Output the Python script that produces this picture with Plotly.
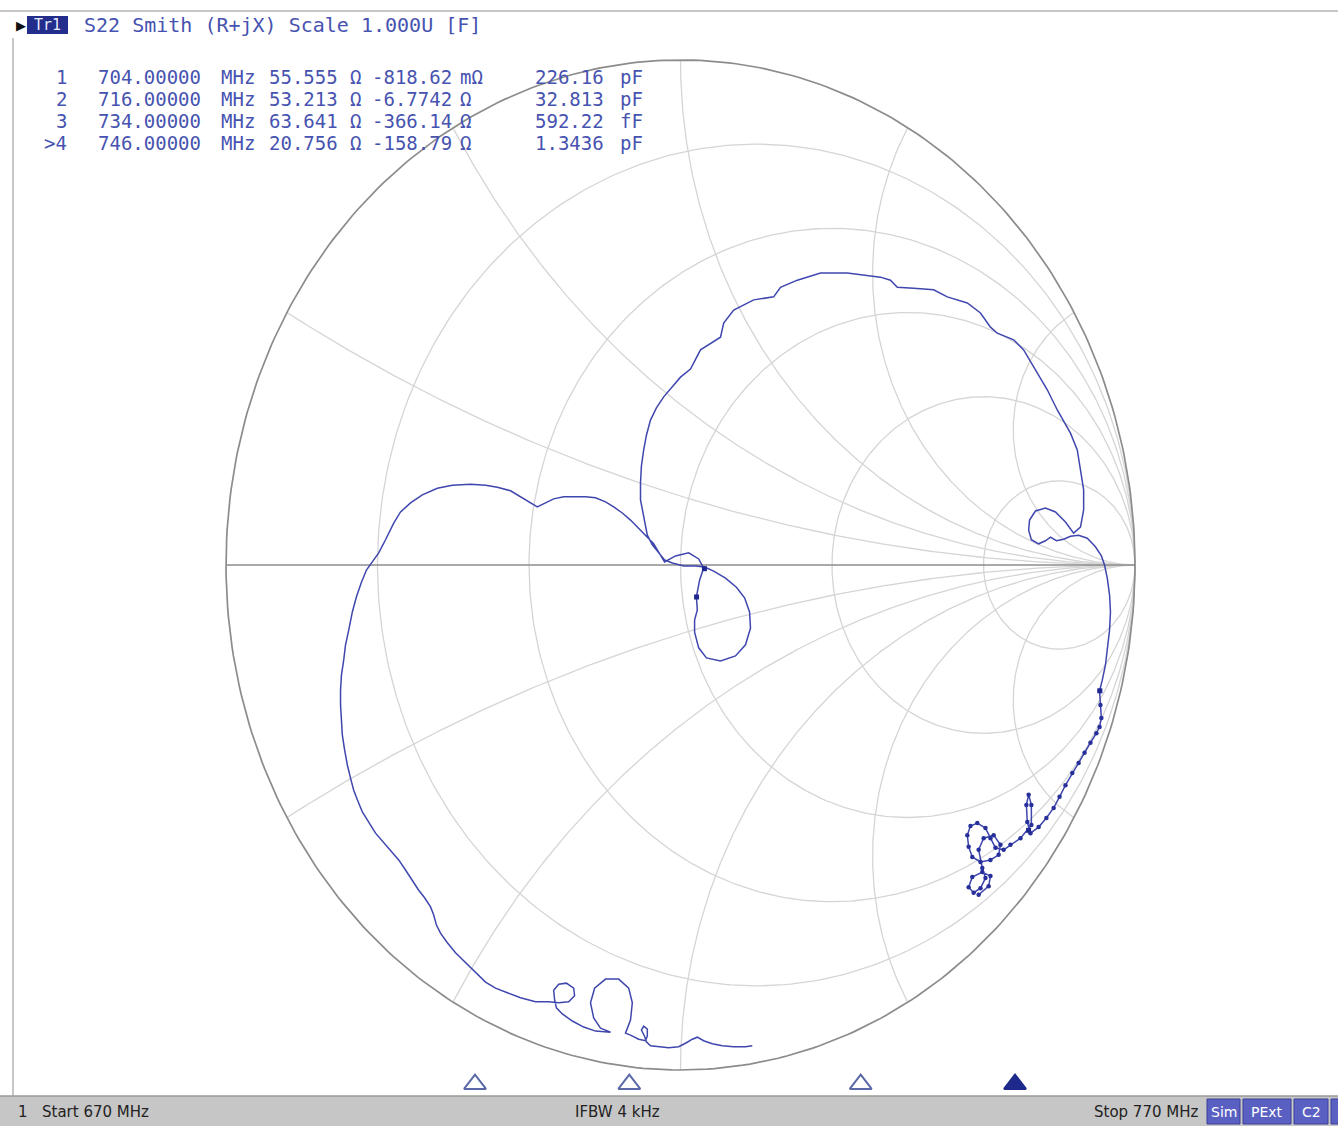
import numpy as np
import plotly.graph_objects as go

# ---------------------------------------------------------------------------
# S22 trace: reflection coefficient, swept 670 MHz -> 770 MHz
# ---------------------------------------------------------------------------
gamma_re = [
    0.158, 0.143, 0.117, 0.092, 0.070, 0.051, 0.037, 0.026, 0.013, -0.004,
    -0.026, -0.051, -0.066, -0.075, -0.079, -0.086, -0.081, -0.073, -0.073, -0.077,
    -0.092, -0.110, -0.121, -0.110, -0.106, -0.114, -0.136, -0.165, -0.189, -0.198,
    -0.191, -0.176, -0.154, -0.187, -0.213, -0.238, -0.260, -0.273, -0.277, -0.279,
    -0.268, -0.251, -0.235, -0.233, -0.246, -0.268, -0.290, -0.319, -0.352, -0.381,
    -0.407, -0.429, -0.451, -0.473, -0.495, -0.513, -0.528, -0.537, -0.543, -0.550,
    -0.563, -0.576, -0.590, -0.605, -0.620, -0.638, -0.656, -0.671, -0.686, -0.700,
    -0.711, -0.719, -0.726, -0.733, -0.739, -0.744, -0.746, -0.748, -0.748, -0.746,
    -0.741, -0.737, -0.730, -0.722, -0.713, -0.702, -0.691, -0.678, -0.664, -0.649,
    -0.631, -0.616, -0.594, -0.568, -0.535, -0.502, -0.462, -0.429, -0.403, -0.374,
    -0.352, -0.334, -0.315, -0.297, -0.279, -0.257, -0.235, -0.209, -0.187, -0.165,
    -0.147, -0.128, -0.110, -0.092, -0.073, -0.059, -0.051, -0.042, -0.035, -0.011,
    0.018, 0.040, 0.051, 0.042, 0.035, 0.037, 0.031, 0.031, 0.040, 0.057,
    0.088, 0.121, 0.143, 0.154, 0.152, 0.141, 0.123, 0.099, 0.073, 0.053,
    0.033, 0.007, -0.018, -0.035, -0.048, -0.062, -0.073, -0.081, -0.088, -0.088,
    -0.086, -0.081, -0.075, -0.066, -0.053, -0.037, -0.018, 0.000, 0.022, 0.044,
    0.088, 0.095, 0.117, 0.161, 0.205, 0.220, 0.257, 0.308, 0.367, 0.440,
    0.462, 0.477, 0.513, 0.557, 0.587, 0.631, 0.660, 0.682, 0.697, 0.733,
    0.755, 0.777, 0.807, 0.829, 0.858, 0.873, 0.880, 0.887, 0.887, 0.880,
    0.865, 0.847, 0.825, 0.803, 0.781, 0.768, 0.766, 0.772, 0.788, 0.803,
    0.814, 0.827, 0.843, 0.858, 0.876, 0.895, 0.913, 0.926, 0.933, 0.939,
    0.944, 0.946, 0.944, 0.939, 0.935, 0.928, 0.922, 0.924, 0.926, 0.922,
    0.915, 0.902, 0.889, 0.876, 0.862, 0.847, 0.834, 0.821, 0.805, 0.788,
    0.770, 0.763, 0.761, 0.766, 0.772, 0.772, 0.748, 0.726, 0.711, 0.693,
    0.682, 0.671, 0.653, 0.638, 0.631, 0.634, 0.642, 0.660, 0.682, 0.700,
    0.704, 0.689, 0.667, 0.656, 0.664, 0.671, 0.660, 0.645, 0.634, 0.642,
    0.664, 0.682, 0.678, 0.656,
]
gamma_im = [
    -0.952, -0.954, -0.954, -0.952, -0.948, -0.942, -0.935, -0.939, -0.946, -0.954,
    -0.956, -0.954, -0.952, -0.944, -0.933, -0.921, -0.913, -0.919, -0.933, -0.942,
    -0.939, -0.931, -0.927, -0.901, -0.867, -0.838, -0.820, -0.820, -0.838, -0.867,
    -0.897, -0.917, -0.925, -0.923, -0.915, -0.903, -0.889, -0.877, -0.861, -0.842,
    -0.830, -0.828, -0.838, -0.853, -0.865, -0.867, -0.865, -0.865, -0.857, -0.847,
    -0.838, -0.826, -0.806, -0.788, -0.768, -0.748, -0.729, -0.713, -0.693, -0.677,
    -0.659, -0.644, -0.624, -0.604, -0.584, -0.566, -0.548, -0.531, -0.509, -0.489,
    -0.465, -0.446, -0.422, -0.396, -0.366, -0.337, -0.307, -0.277, -0.248, -0.218,
    -0.188, -0.158, -0.129, -0.093, -0.063, -0.034, -0.010, 0.006, 0.024, 0.050,
    0.083, 0.105, 0.123, 0.139, 0.152, 0.158, 0.160, 0.158, 0.154, 0.147,
    0.135, 0.125, 0.115, 0.123, 0.131, 0.135, 0.135, 0.135, 0.133, 0.125,
    0.115, 0.103, 0.089, 0.073, 0.055, 0.042, 0.030, 0.016, 0.006, 0.018,
    0.024, 0.012, -0.006, -0.030, -0.063, -0.089, -0.109, -0.133, -0.164, -0.184,
    -0.190, -0.180, -0.158, -0.125, -0.093, -0.065, -0.044, -0.026, -0.012, -0.004,
    -0.002, -0.002, 0.004, 0.010, 0.024, 0.040, 0.059, 0.095, 0.129, 0.162,
    0.196, 0.228, 0.257, 0.287, 0.311, 0.333, 0.352, 0.372, 0.388, 0.426,
    0.451, 0.479, 0.505, 0.525, 0.531, 0.550, 0.564, 0.578, 0.578, 0.570,
    0.564, 0.550, 0.548, 0.545, 0.531, 0.519, 0.499, 0.471, 0.459, 0.446,
    0.426, 0.392, 0.347, 0.307, 0.261, 0.228, 0.188, 0.149, 0.109, 0.075,
    0.063, 0.085, 0.105, 0.113, 0.107, 0.089, 0.069, 0.050, 0.042, 0.048,
    0.055, 0.048, 0.051, 0.057, 0.059, 0.053, 0.036, 0.018, 0.000, -0.026,
    -0.059, -0.093, -0.129, -0.164, -0.198, -0.228, -0.249, -0.277, -0.303, -0.321,
    -0.333, -0.352, -0.372, -0.392, -0.412, -0.436, -0.459, -0.481, -0.501, -0.519,
    -0.531, -0.509, -0.475, -0.455, -0.475, -0.515, -0.541, -0.554, -0.564, -0.560,
    -0.541, -0.521, -0.511, -0.517, -0.535, -0.558, -0.578, -0.588, -0.584, -0.574,
    -0.554, -0.535, -0.541, -0.564, -0.600, -0.620, -0.640, -0.649, -0.638, -0.618,
    -0.608, -0.616, -0.636, -0.653,
]

# Marker readout table
marker_id = ["1", "2", "3", ">4"]
marker_freq_mhz = [704.0, 716.0, 734.0, 746.0]
marker_freq_text = ["704.00000", "716.00000", "734.00000", "746.00000"]
marker_r_ohm = [55.555, 53.213, 63.641, 20.756]
marker_r_text = ["55.555", "53.213", "63.641", "20.756"]
marker_x_ohm = [-0.81862, -6.7742, -366.14, -158.79]
marker_x_text = ["-818.62", "-6.7742", "-366.14", "-158.79"]
marker_x_unit = ["mΩ", "Ω", "Ω", "Ω"]
marker_c_text = ["226.16", "32.813", "592.22", "1.3436"]
marker_c_unit = ["pF", "pF", "fF", "pF"]
active_marker = 3

# Smith chart grid (normalised resistance circles, reactance arcs)
resistance_grid = [0.2, 0.5, 1.0, 2.0, 5.0]
reactance_grid = [0.268, 0.577, 1.0, 1.732, 3.732]

Z0 = 50.0
START_MHZ, STOP_MHZ = 670, 770

W, H = 1338, 1126
TRACE_BLUE = "#3f47ae"
TEXT_BLUE = "#4753b0"
GRID_LIGHT = "#d5d5d5"
GRID_DARK = "#8c8c8c"


def px(x):
    return x / W


def py(y):
    return 1 - y / H


def r_circle(r):
    t = np.linspace(0, 2 * np.pi, 400)
    c, rad = r / (1 + r), 1 / (1 + r)
    return c + rad * np.cos(t), rad * np.sin(t)


def x_arc(x):
    k = 1 / x
    er, ei = (x * x - 1) / (x * x + 1), 2 * x / (x * x + 1)
    a1 = -np.pi / 2
    a2 = np.arctan2(ei - k, er - 1)
    if a2 > a1:
        a2 -= 2 * np.pi
    t = np.linspace(a1, a2, 300)
    return 1 + k * np.cos(t), k + k * np.sin(t)


fig = go.Figure()

# light grid: resistance circles and reactance arcs
gx, gy = [], []
for r in resistance_grid:
    cx, cy = r_circle(r)
    gx += list(cx) + [None]
    gy += list(cy) + [None]
for x in reactance_grid:
    ax_, ay_ = x_arc(x)
    gx += list(ax_) + [None] + list(ax_) + [None]
    gy += list(ay_) + [None] + list(-ay_) + [None]
fig.add_trace(go.Scatter(x=gx, y=gy, mode="lines", hoverinfo="skip",
                         line=dict(color=GRID_LIGHT, width=1.3)))

# outer boundary and real axis
ox, oy = r_circle(0.0)
fig.add_trace(go.Scatter(x=list(ox) + [None, -1, 1], y=list(oy) + [None, 0, 0],
                         mode="lines", hoverinfo="skip",
                         line=dict(color=GRID_DARK, width=1.7)))

# measured trace
fig.add_trace(go.Scatter(x=gamma_re, y=gamma_im, mode="lines",
                         line=dict(color=TRACE_BLUE, width=1.5)))
# noisy tail of the sweep drawn with its sample dots
fig.add_trace(go.Scatter(x=gamma_re[216:], y=gamma_im[216:], mode="markers",
                         marker=dict(color="#27309a", size=4.5)))

# marker positions from the readout impedances
z = (np.array(marker_r_ohm) + 1j * np.array(marker_x_ohm)) / Z0
g = (z - 1) / (z + 1)
fig.add_trace(go.Scatter(x=g.real, y=g.imag, mode="markers",
                         marker=dict(color="#1f2890", size=5, symbol="square")))

# marker flags along the stimulus axis
tri_y = -1.028
for i, f in enumerate(marker_freq_mhz):
    active = i == active_marker
    fig.add_trace(go.Scatter(
        x=[f], y=[tri_y], xaxis="x2", mode="markers",
        marker=dict(symbol="triangle-up" if active else "triangle-up-open",
                    size=19, color="#1d2a8c" if active else "#5a68a8",
                    line=dict(width=2, color="#1d2a8c" if active else "#5a68a8"))))

x0 = -1 - 226 / 454.5
x1 = x0 + W / 454.5
y1 = 1 + 60 / 505
y0 = y1 - H / 505
px_per_mhz = (1015 - 475) / (746 - 704)
f_left = START_MHZ - (475 - (704 - START_MHZ) * px_per_mhz) / px_per_mhz
f_right = f_left + W / px_per_mhz

shapes = [
    # window frame
    dict(type="line", xref="paper", yref="paper", x0=0, x1=1, y0=py(11), y1=py(11),
         line=dict(color="#b4b4b4", width=1.5)),
    dict(type="line", xref="paper", yref="paper", x0=px(13), x1=px(13), y0=py(38), y1=py(1096),
         line=dict(color="#b4b4b4", width=1.5)),
    # status bar
    dict(type="rect", xref="paper", yref="paper", x0=0, x1=1, y0=0, y1=py(1096),
         fillcolor="#c6c6c6", line=dict(width=0)),
    dict(type="line", xref="paper", yref="paper", x0=0, x1=1, y0=py(1096), y1=py(1096),
         line=dict(color="#9a9a9a", width=1.5)),
    # trace tag
    dict(type="rect", xref="paper", yref="paper", x0=px(27), x1=px(68), y0=py(34), y1=py(16),
         fillcolor="#232d8c", line=dict(width=0)),
]
for xa, xb in [(1207, 1240), (1243, 1291), (1294, 1328), (1331, 1340)]:
    shapes.append(dict(type="rect", xref="paper", yref="paper", x0=px(xa), x1=px(xb),
                       y0=py(1124), y1=py(1099), fillcolor="#5a5fc2",
                       line=dict(color="#3a3f9a", width=1)))

mono = "DejaVu Sans Mono"
ann = []


def text(x, y, s, size=19, color=TEXT_BLUE, family=mono, anchor="left"):
    ann.append(dict(x=px(x), y=py(y), xref="paper", yref="paper", text=s, showarrow=False,
                    xanchor=anchor, yanchor="middle",
                    font=dict(family=family, size=size, color=color)))


text(14, 25, "▶", size=13, color="#111111", family="DejaVu Sans")
text(47.5, 25, "Tr1", size=15, color="#e8ecff", anchor="center")
text(82, 25, "S22 Smith (R+jX) Scale 1.000U [F]", size=20)

row_y = [77, 99, 121, 143]
for i in range(4):
    y = row_y[i]
    text(69, y, marker_id[i], anchor="right")
    text(96, y, marker_freq_text[i])
    text(219, y, "MHz")
    text(340, y, marker_r_text[i], anchor="right")
    text(348, y, "Ω")
    text(370, y, marker_x_text[i])
    text(458, y, marker_x_unit[i])
    text(606, y, marker_c_text[i], anchor="right")
    text(618, y, marker_c_unit[i])

sans = "DejaVu Sans"
text(16, 1112, "1", size=15, color="#222222", family=sans)
text(40, 1112, f"Start {START_MHZ} MHz", size=15, color="#222222", family=sans)
text(617, 1112, "IFBW 4 kHz", size=15, color="#222222", family=sans, anchor="center")
text(1200, 1112, f"Stop {STOP_MHZ} MHz", size=15, color="#222222", family=sans, anchor="right")
for xc, s in [(1223.5, "Sim"), (1267, "PExt"), (1311, "C2")]:
    text(xc, 1112, s, size=14, color="#ffffff", family=sans, anchor="center")

fig.update_layout(
    width=W, height=H, margin=dict(l=0, r=0, t=0, b=0),
    paper_bgcolor="white", plot_bgcolor="white", showlegend=False,
    xaxis=dict(range=[x0, x1], visible=False, fixedrange=True),
    xaxis2=dict(range=[f_left, f_right], visible=False, overlaying="x", anchor="y"),
    yaxis=dict(range=[y0, y1], visible=False, fixedrange=True),
    shapes=shapes, annotations=ann,
)

fig.write_html("out.html")
